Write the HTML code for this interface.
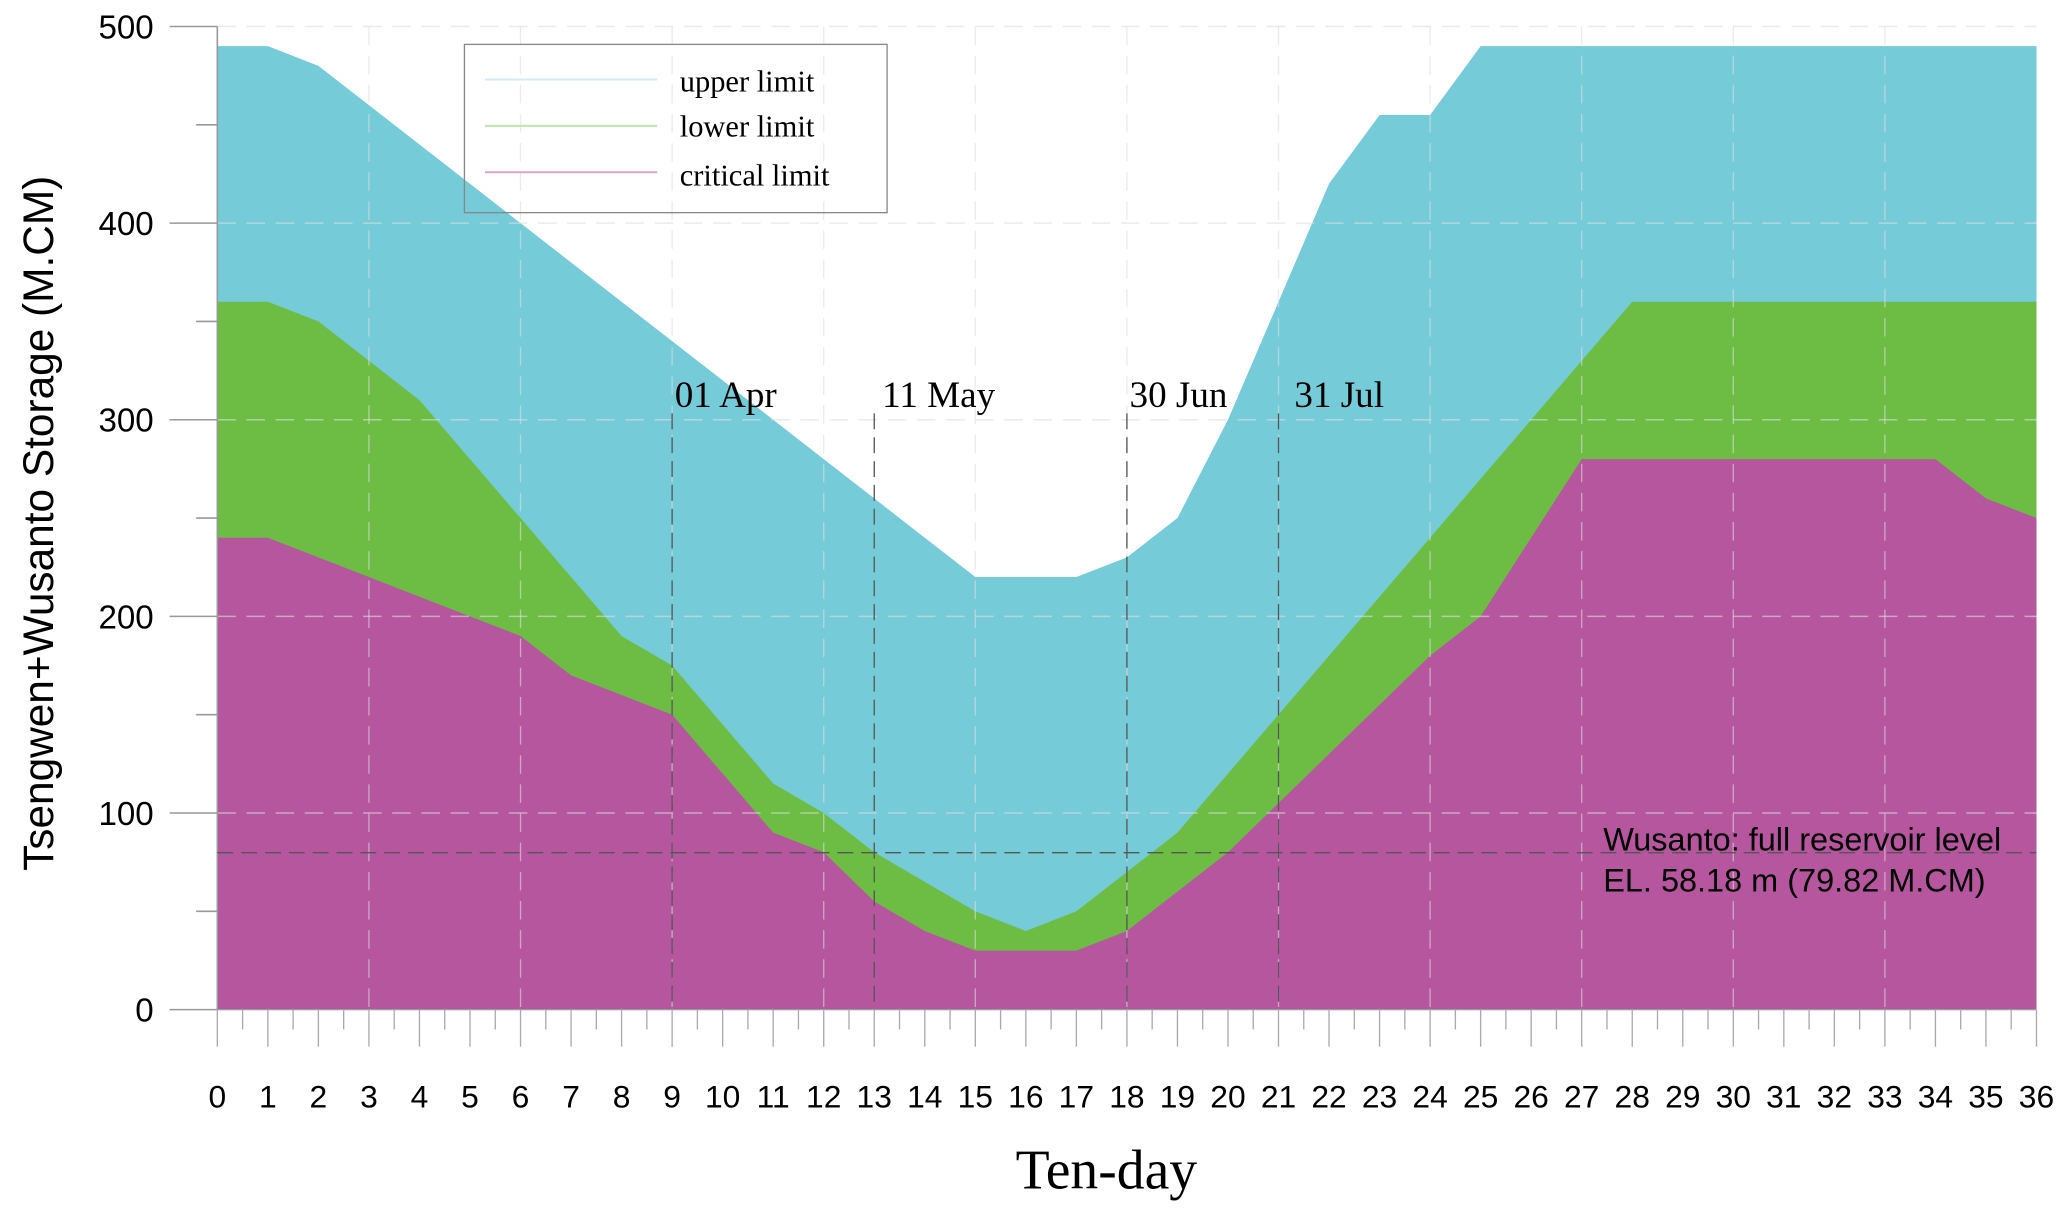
<!DOCTYPE html>
<html><head><meta charset="utf-8"><style>html,body{margin:0;padding:0;background:#fff}svg{display:block}</style></head>
<body>
<svg id="chart" width="2067" height="1211" viewBox="0 0 1560 914" xmlns="http://www.w3.org/2000/svg">
<g id="layers"></g>
<g id="grid"></g>
<g id="axes"></g>
<g id="annot"></g>
<g>
  <rect x="350.5" y="33.5" width="319" height="127" fill="none" stroke="#888" stroke-width="1"/>
  <line x1="366" y1="60" x2="496" y2="60" stroke="#cdeef3" stroke-width="1.5"/>
  <text x="513" y="69" font-family="Liberation Serif, serif" font-size="23">upper limit</text>
  <line x1="366" y1="95" x2="496" y2="95" stroke="#bfe6a8" stroke-width="1.5"/>
  <text x="513" y="103" font-family="Liberation Serif, serif" font-size="23">lower limit</text>
  <line x1="366" y1="130" x2="496" y2="130" stroke="#dba6cf" stroke-width="1.5"/>
  <text x="513" y="140" font-family="Liberation Serif, serif" font-size="23">critical limit</text>
</g>
<text transform="translate(40,395) rotate(-90)" text-anchor="middle" font-family="Liberation Sans, sans-serif" font-size="32">Tsengwen+Wusanto Storage (M.CM)</text>
<text x="835" y="897" text-anchor="middle" font-family="Liberation Serif, serif" font-size="42">Ten-day</text>
</svg>
<script>
const tenDays = [0,1,2,3,4,5,6,7,8,9,10,11,12,13,14,15,16,17,18,19,20,21,22,23,24,25,26,27,28,29,30,31,32,33,34,35,36];
const upperLimit = [490,490,480,460,440,420,400,380,360,340,320,300,280,260,240,220,220,220,230,250,300,360,420,455,455,490,490,490,490,490,490,490,490,490,490,490,490];
const lowerLimit = [360,360,350,330,310,280,250,220,190,175,145,115,100,80,65,50,40,50,70,90,120,150,180,210,240,270,300,330,360,360,360,360,360,360,360,360,360];
const criticalLimit = [240,240,230,220,210,200,190,170,160,150,120,90,80,55,40,30,30,30,40,60,80,105,130,155,180,200,240,280,280,280,280,280,280,280,280,260,250];
const yTicks = [0,100,200,300,400,500];
const dateMarks = [9,13,18,21];
const dateLabels = ["01 Apr","11 May","30 Jun","31 Jul"];
const fullLevel = 79.82;

const NS="http://www.w3.org/2000/svg";
const X0=164,X1=1537,Y0=762,Y1=20;
const xs=v=>X0+(v-0)*(X1-X0)/36;
const ys=v=>Y0-(v-0)*(Y0-Y1)/500;
function mk(t,a,p){const e=document.createElementNS(NS,t);for(const k in a)e.setAttribute(k,a[k]);p.appendChild(e);return e;}
const L=document.getElementById('layers'),G=document.getElementById('grid'),A=document.getElementById('axes'),N=document.getElementById('annot');

function area(vals,color,name){
  let d='M'+xs(tenDays[0])+','+ys(0);
  vals.forEach((v,i)=>{d+=' L'+xs(tenDays[i])+','+ys(v);});
  d+=' L'+xs(tenDays[tenDays.length-1])+','+ys(0)+' Z';
  const p=mk('path',{d:d,fill:color},L);
  
  
}
area(upperLimit,'#75ccd8','upper-limit-area');
area(lowerLimit,'#6dbd45','lower-limit-area');
area(criticalLimit,'#b5569e','critical-limit-area');

[100,200,300,400,500].forEach(v=>{
  const l=mk('line',{x1:X0,x2:X1,y1:ys(v),y2:ys(v),stroke:'#dddddd','stroke-width':1.2,'stroke-dasharray':'14,8','stroke-opacity':0.6},G);
  
  
});
for(let v=3;v<36;v+=3){
  const l=mk('line',{x1:xs(v),x2:xs(v),y1:Y1,y2:Y0,stroke:'#dddddd','stroke-width':1,'stroke-dasharray':'14,8','stroke-opacity':0.6},G);
  
  
}
const ya=mk('line',{x1:X0,x2:X0,y1:Y1,y2:Y0,stroke:'#999','stroke-width':1.2},A);


yTicks.forEach(v=>{
  mk('line',{x1:128,x2:X0,y1:ys(v),y2:ys(v),stroke:'#999','stroke-width':1.2},A);
  const t=mk('text',{x:116,y:ys(v)+9,'text-anchor':'end','font-family':'Liberation Sans, sans-serif','font-size':25},A);
  t.textContent=v;
  
  
});
for(let v=50;v<500;v+=100){mk('line',{x1:148,x2:X0,y1:ys(v),y2:ys(v),stroke:'#999','stroke-width':1.2},A);}
const xa=mk('line',{x1:X0,x2:X1,y1:Y0,y2:Y0,stroke:'#999','stroke-width':1},A);


for(let v=0;v<=36;v+=0.5){
  const major=Number.isInteger(v);
  mk('line',{x1:xs(v),x2:xs(v),y1:Y0,y2:major?790:777,stroke:'#aaa','stroke-width':1},A);
}
tenDays.forEach(v=>{
  const t=mk('text',{x:xs(v),y:836,'text-anchor':'middle','font-family':'Liberation Sans, sans-serif','font-size':24},A);
  t.textContent=v;
  
  
});
dateMarks.forEach((v,i)=>{
  const l=mk('line',{x1:xs(v),x2:xs(v),y1:312,y2:Y0,stroke:'#555','stroke-width':1,'stroke-dasharray':'12,6'},N);
  
  
  const t=mk('text',{x:xs(v)+2+(i==1?4:0)+(i==3?10:0),y:307,'font-family':'Liberation Serif, serif','font-size':28},N);
  t.textContent=dateLabels[i];
  
  
});
const fl=mk('line',{x1:X0,x2:X1,y1:ys(fullLevel),y2:ys(fullLevel),stroke:'#555','stroke-width':1,'stroke-dasharray':'12,6'},N);


const a1=mk('text',{x:1210,y:642,'font-family':'Liberation Sans, sans-serif','font-size':24.5},N);
a1.textContent='Wusanto: full reservoir level';


const a2=mk('text',{x:1210,y:673,'font-family':'Liberation Sans, sans-serif','font-size':24.5},N);
a2.textContent='EL. 58.18 m (79.82 M.CM)';


</script>
</body></html>
